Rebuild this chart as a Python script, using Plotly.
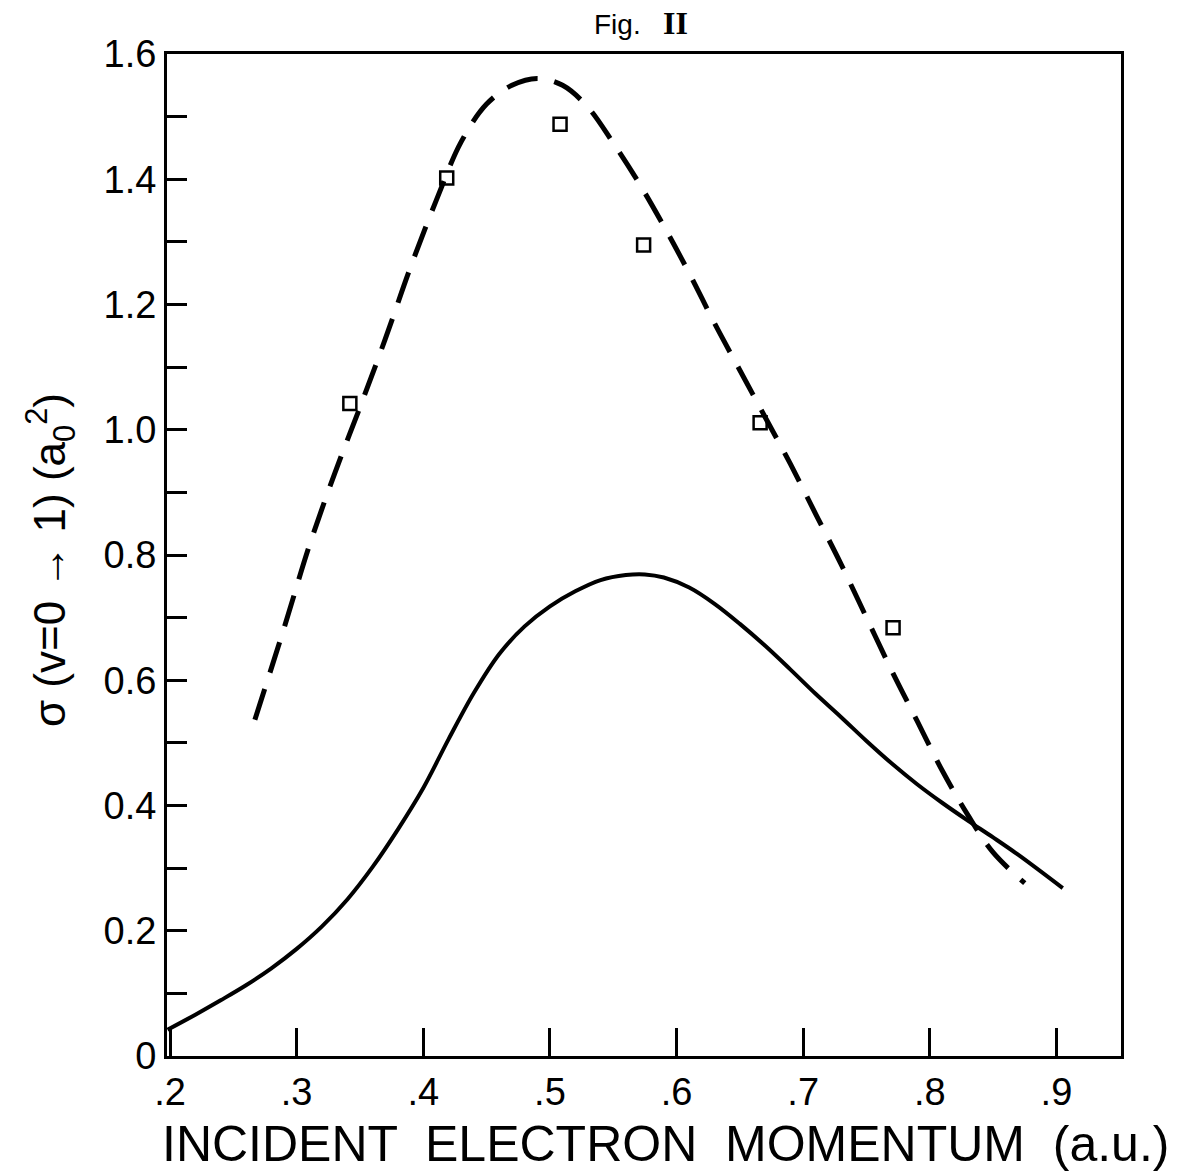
import plotly.graph_objects as go

# Solid curve (theory)
solid_x = [0.198, 0.22, 0.24, 0.26, 0.28, 0.30, 0.32, 0.34, 0.36, 0.38, 0.40, 0.42,
           0.44, 0.46, 0.48, 0.50, 0.52, 0.54, 0.56, 0.575, 0.59, 0.61, 0.63, 0.65,
           0.67, 0.69, 0.71, 0.73, 0.75, 0.77, 0.79, 0.81, 0.83, 0.85, 0.87, 0.905]
solid_y = [0.042, 0.066, 0.089, 0.113, 0.140, 0.171, 0.207, 0.250, 0.302, 0.362, 0.428, 0.506,
           0.580, 0.642, 0.686, 0.718, 0.742, 0.760, 0.768, 0.769, 0.764, 0.748,
           0.722, 0.690, 0.655, 0.617, 0.578, 0.541, 0.503, 0.467, 0.434, 0.404, 0.376, 0.349,
           0.321, 0.268]

# Dashed curve
dash_x = [0.267, 0.29, 0.31, 0.33, 0.35, 0.37, 0.39, 0.41, 0.43, 0.45, 0.47, 0.49, 0.51,
          0.53, 0.55, 0.57, 0.59, 0.61, 0.63, 0.65, 0.67, 0.69, 0.71, 0.73, 0.75, 0.77,
          0.79, 0.81, 0.83, 0.85, 0.875]
dash_y = [0.537, 0.683, 0.815, 0.930, 1.036, 1.145, 1.260, 1.365, 1.460, 1.520, 1.550, 1.561,
          1.550, 1.515, 1.458, 1.395, 1.325, 1.250, 1.170, 1.095, 1.020, 0.945, 0.865, 0.785,
          0.700, 0.615, 0.535, 0.455, 0.385, 0.325, 0.276]

# Experimental points (open squares)
pts_x = [0.342, 0.4185, 0.508, 0.574, 0.666, 0.771]
pts_y = [1.042, 1.402, 1.488, 1.295, 1.011, 0.684]

x_tickvals = [0.2, 0.3, 0.4, 0.5, 0.6, 0.7, 0.8, 0.9]
x_ticktext = [".2", ".3", ".4", ".5", ".6", ".7", ".8", ".9"]
y_tickvals = [0, 0.1, 0.2, 0.3, 0.4, 0.5, 0.6, 0.7, 0.8, 0.9, 1.0, 1.1, 1.2, 1.3, 1.4, 1.5, 1.6]
y_ticktext = ["0", "", "0.2", "", "0.4", "", "0.6", "", "0.8", "", "1.0", "", "1.2", "", "1.4", "", "1.6"]

FONT = "Liberation Sans"

fig = go.Figure()
fig.add_trace(go.Scatter(x=solid_x, y=solid_y, mode="lines",
                         line=dict(color="black", width=4, shape="spline", smoothing=1.0),
                         showlegend=False, hoverinfo="skip"))
fig.add_trace(go.Scatter(x=dash_x, y=dash_y, mode="lines",
                         line=dict(color="black", width=5, dash="32px,17px", shape="spline", smoothing=1.0),
                         showlegend=False, hoverinfo="skip"))
fig.add_trace(go.Scatter(x=pts_x, y=pts_y, mode="markers",
                         marker=dict(symbol="square-open", size=13, color="black", line=dict(width=2.5, color="black")),
                         showlegend=False, hoverinfo="skip"))

fig.update_layout(
    width=1182, height=1171,
    margin=dict(l=167, r=61, t=54, b=115),
    paper_bgcolor="white", plot_bgcolor="white",
    font=dict(family=FONT, color="black"),
    xaxis=dict(range=[0.1976, 0.951], showgrid=False, zeroline=False,
               showline=True, linecolor="black", linewidth=3, mirror=True,
               ticks="inside", ticklen=28, tickwidth=2.5, tickcolor="black",
               tickvals=x_tickvals, ticktext=x_ticktext,
               tickfont=dict(size=38, family=FONT, color="black")),
    yaxis=dict(range=[0, 1.6], showgrid=False, zeroline=False,
               showline=True, linecolor="black", linewidth=3, mirror=True,
               ticks="inside", ticklen=20, tickwidth=2.5, tickcolor="black",
               tickvals=y_tickvals, ticktext=y_ticktext,
               tickfont=dict(size=38, family=FONT, color="black")),
    annotations=[
        dict(text="INCIDENT  ELECTRON  MOMENTUM  (a.u.)", xref="paper", yref="paper",
             x=0.523, y=0, xanchor="center", yanchor="top", yshift=-58, showarrow=False,
             font=dict(size=50, family=FONT, color="black")),
        dict(text="σ (v=0 → 1) (a<sub>0</sub><sup>2</sup>)", xref="paper", yref="paper",
             x=-0.1226, y=0.495, xanchor="center", yanchor="middle", textangle=-90, showarrow=False,
             font=dict(size=44, family=FONT, color="black")),
        dict(text="Fig.", xref="paper", yref="paper", x=0.4727, y=1, xanchor="center", yanchor="bottom",
             yshift=12, showarrow=False, font=dict(size=28, family=FONT, color="black")),
        dict(text="<b>II</b>", xref="paper", yref="paper", x=0.5325, y=1, xanchor="center", yanchor="bottom",
             yshift=11, showarrow=False, font=dict(size=32, family="Liberation Serif", color="black")),
    ],
)

fig.write_html("out.html")
